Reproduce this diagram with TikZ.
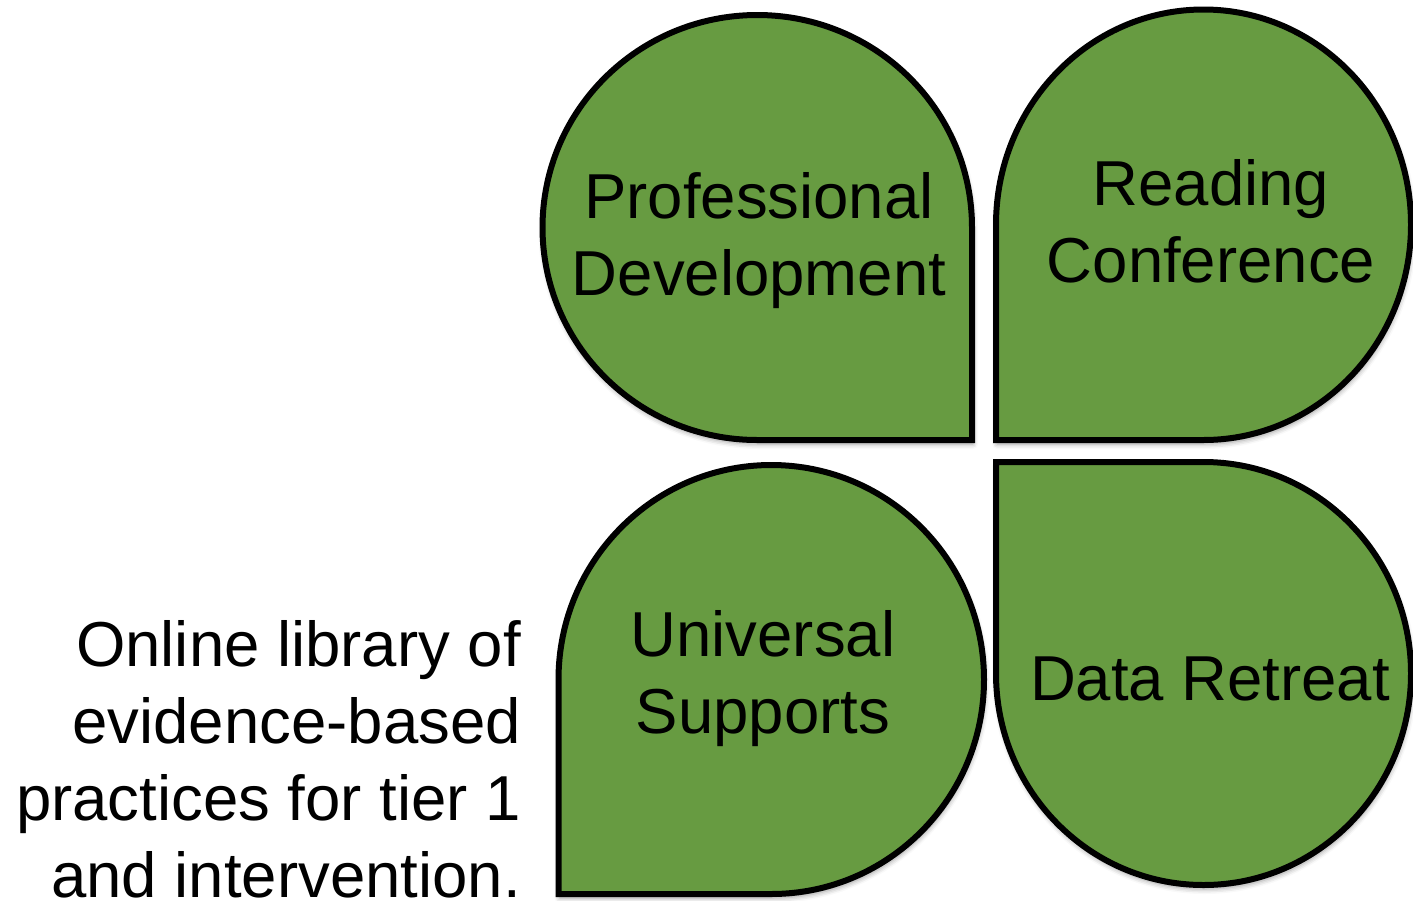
\documentclass[tikz,border=0pt]{standalone}
\usepackage{fontspec}
\setmainfont{Liberation Sans}
\usetikzlibrary{shadows.blur}
\definecolor{leaf}{RGB}{103,155,65}
\begin{document}
\begin{tikzpicture}[x=1pt,y=1pt,
  petal/.style={draw=black, line width=6pt, fill=leaf, line join=miter,
    blur shadow={shadow xshift=1pt, shadow yshift=-4pt, shadow blur radius=5pt, shadow opacity=40}},
  lbl/.style={align=center, inner sep=0pt, anchor=base, font=\fontsize{63.5}{77}\selectfont},
  side/.style={align=right, inner sep=0pt, anchor=base east, font=\fontsize{63.5}{77}\selectfont}]
\useasboundingbox (0,0) rectangle (1413,-900);
% top-left petal (corner bottom-right)
\path[petal] (972,-440) -- (757.25,-440)
  arc[start angle=270, end angle=0, x radius=214.75, y radius=212.5] -- cycle;
% top-right petal (corner bottom-left)
\path[petal] (996,-440) -- (996,-224.75)
  arc[start angle=180, end angle=-90, x radius=207.5, y radius=215.25] -- cycle;
% bottom-left petal (corner bottom-left)
\path[petal] (558.5,-894) -- (558.5,-679.5)
  arc[start angle=180, end angle=-90, x radius=212.75, y radius=214.5] -- cycle;
% bottom-right petal (corner top-left)
\path[petal] (996,-462) -- (1203.5,-462)
  arc[start angle=90, end angle=-180, x radius=207.5, y radius=211.5] -- cycle;

% anchor=base of a multi-line node is the baseline of its last line
\node[lbl] (pd) at (759,-295) {Professional\\Development};
\node[lbl] (rc) at (1211,-282) {Reading\\Conference};
\node[lbl] (us) at (763,-733) {Universal\\Supports};
\node[lbl] (dr) at (1210,-700) {Data Retreat};
\node[side] (lib) at (521,-897) {Online library of\\evidence-based\\practices for tier 1\\and intervention.};
\end{tikzpicture}
\end{document}
